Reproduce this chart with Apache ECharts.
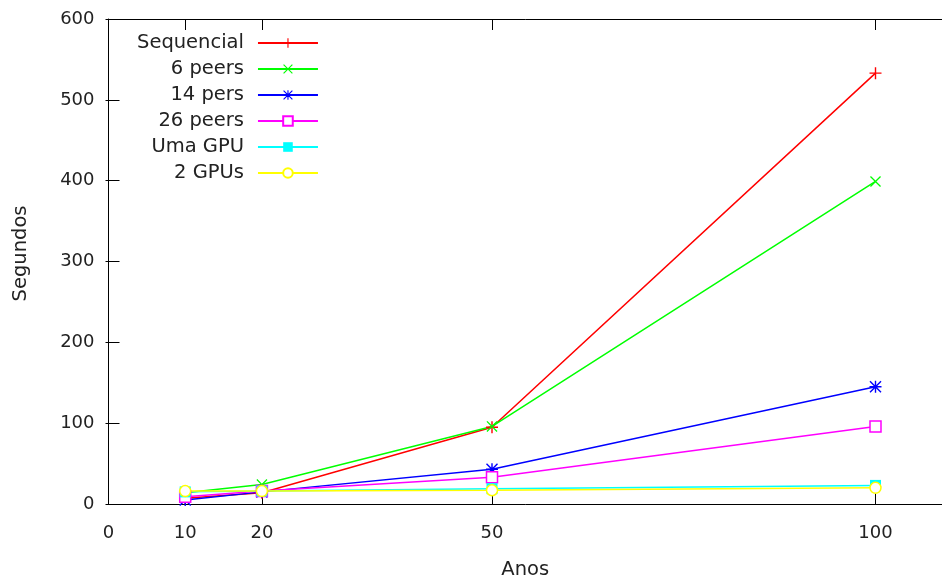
<!DOCTYPE html>
<html>
<head>
<meta charset="utf-8">
<script src="https://cdn.jsdelivr.net/npm/echarts@6/dist/echarts.min.js"></script>
<style>
html,body{margin:0;padding:0;background:#fff;}
#c{width:942px;height:585px;}
</style>
</head>
<body>
<div id="c"></div>
<script>
// ---- data ----
const anos = [10, 20, 50, 100];
const sequencial = [7, 14, 95, 533];
const peers6 = [14, 24, 96, 399];
const pers14 = [5, 15, 43, 145];
const peers26 = [9, 16, 33, 96];
const umaGPU = [15, 16, 19, 23];
const doisGPUs = [16, 16, 17, 20];
const xTickValues = [10, 20, 50, 100];
const xLabelValues = [0, 10, 20, 50, 100];
const seriesNames = ['Sequencial', '6 peers', '14 pers', '26 peers', 'Uma GPU', '2 GPUs'];

const FONT = 'DejaVu Sans';
const FS = 18;
const FSN = 19.5;
const TXT = '#222';

const plusPath = 'path://M5.3,0 H6.7 V5.3 H12 V6.7 H6.7 V12 H5.3 V6.7 H0 V5.3 H5.3 Z';
const xPath = 'path://M0,1 L1,0 L6,5 L11,0 L12,1 L7,6 L12,11 L11,12 L6,7 L1,12 L0,11 L5,6 Z';
const starPath = 'path://M5.3,0 H6.7 V5.3 H12 V6.7 H6.7 V12 H5.3 V6.7 H0 V5.3 H5.3 Z M0,1 L1,0 L6,5 L11,0 L12,1 L7,6 L12,11 L11,12 L6,7 L1,12 L0,11 L5,6 Z';

function pts(ys){ return anos.map((x,i)=>[x, ys[i]]); }

function mk(name, ys, color, symbol, size, hollow){
  return {
    name: name,
    type: 'line',
    data: pts(ys),
    symbol: symbol,
    symbolSize: size,
    showAllSymbol: true,
    animation: false,
    lineStyle: { color: color, width: 1.5 },
    itemStyle: hollow ? { color: '#fff', borderColor: color, borderWidth: 1.5 } : { color: color, borderWidth: 0 },
    emphasis: { disabled: true }
  };
}

const XMAX = 108.67;

const chart = echarts.init(document.getElementById('c'), null, { renderer: 'canvas' });
chart.setOption({
  backgroundColor: '#fff',
  animation: false,
  textStyle: { fontFamily: FONT },
  grid: { left: 108.5, top: 19, bottom: 79.5, right: 0, containLabel: false },
  legend: {
    orient: 'vertical',
    left: 137,
    top: 33,
    align: 'right',
    padding: 0,
    itemWidth: 60,
    itemHeight: 12,
    itemGap: 6,
    data: seriesNames,
    textStyle: { fontFamily: FONT, fontSize: FSN, color: TXT, lineHeight: 18, padding: [0, 9, 0, 0] },
    selectedMode: false
  },
  xAxis: [{
    type: 'value', min: 0, max: XMAX, position: 'bottom',
    name: 'Anos', nameLocation: 'middle', nameGap: 56,
    nameTextStyle: { fontFamily: FONT, fontSize: FSN, color: TXT },
    axisLine: { show: true, onZero: false, lineStyle: { color: '#000', width: 1 } },
    axisTick: { show: true, inside: true, length: 11, customValues: xTickValues, lineStyle: { color: '#000', width: 1 } },
    axisLabel: { show: true, margin: 20, customValues: xLabelValues, fontFamily: FONT, fontSize: FS, color: TXT },
    splitLine: { show: false }
  }, {
    type: 'value', min: 0, max: XMAX, position: 'top',
    axisLine: { show: true, onZero: false, lineStyle: { color: '#000', width: 1 } },
    axisTick: { show: true, inside: true, length: 11, customValues: xTickValues, lineStyle: { color: '#000', width: 1 } },
    axisLabel: { show: false },
    splitLine: { show: false }
  }],
  yAxis: [{
    type: 'value', min: 0, max: 600, interval: 100, position: 'left',
    name: 'Segundos', nameLocation: 'middle', nameGap: 78, nameRotate: 90,
    nameTextStyle: { fontFamily: FONT, fontSize: FSN, color: TXT, padding: [0, 0, 0, 16] },
    axisLine: { show: true, onZero: false, lineStyle: { color: '#000', width: 1 } },
    axisTick: { show: true, inside: true, length: 11, lineStyle: { color: '#000', width: 1 } },
    axisLabel: { show: true, margin: 14, fontFamily: FONT, fontSize: FS, color: TXT },
    splitLine: { show: false }
  }, {
    type: 'value', min: 0, max: 600, interval: 100, position: 'right',
    axisLine: { show: false },
    axisTick: { show: true, inside: true, length: 3, lineStyle: { color: '#000', width: 1 } },
    axisLabel: { show: false },
    splitLine: { show: false }
  }],
  series: [
    mk(seriesNames[0], sequencial, '#ff0000', plusPath, 12, false),
    mk(seriesNames[1], peers6, '#00ff00', xPath, 11, false),
    mk(seriesNames[2], pers14, '#0000ff', starPath, 12, false),
    mk(seriesNames[3], peers26, '#ff00ff', 'rect', 11, true),
    mk(seriesNames[4], umaGPU, '#00ffff', 'rect', 11, false),
    mk(seriesNames[5], doisGPUs, '#ffff00', 'circle', 11, true)
  ]
});
</script>
</body>
</html>
